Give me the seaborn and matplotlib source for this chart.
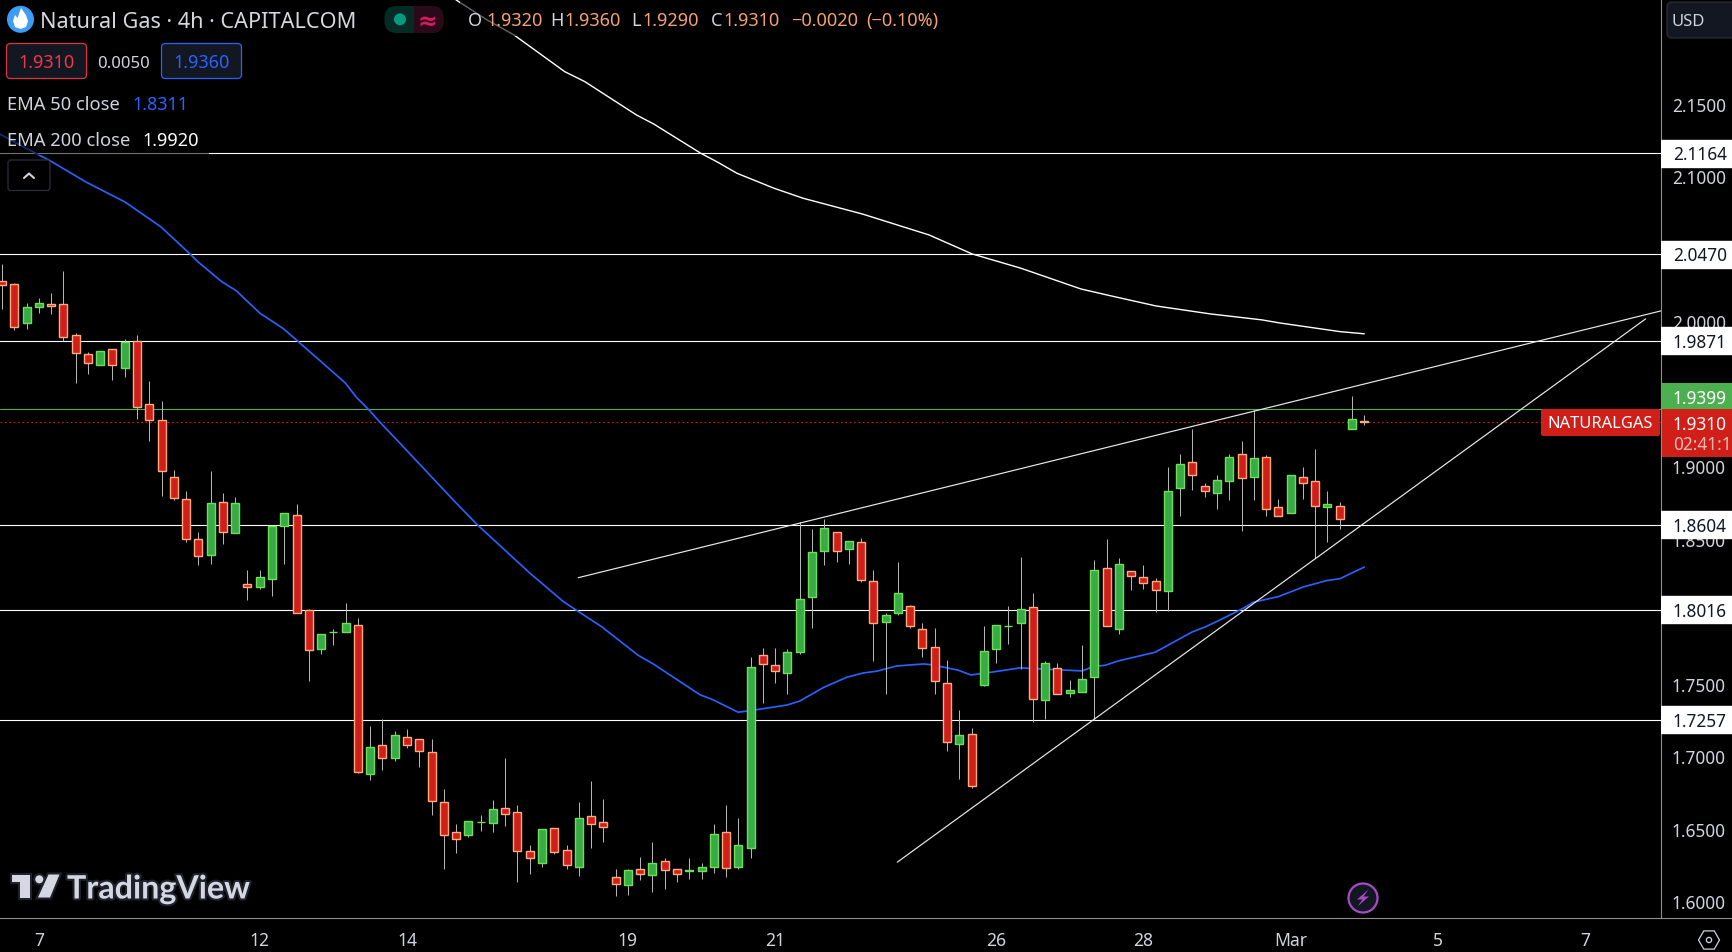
import numpy as np
import pandas as pd
import matplotlib
matplotlib.use("Agg")
import matplotlib.pyplot as plt
from matplotlib.patches import Rectangle, FancyBboxPatch, Circle, Polygon, RegularPolygon
import matplotlib.patheffects as pe
import seaborn as sns

# ---------- data ----------
open_ = [2.0287,2.0262,1.9993,2.0107,2.0124,2.0124,1.9910,1.9779,1.9707,1.9813,1.9687,1.9869,1.9434,1.9324,1.8931,1.8779,1.8503,1.8397,1.8758,1.8548,
         1.8192,1.8176,1.8231,1.8596,1.8668,1.8013,1.7749,1.7860,1.7866,1.7910,1.6887,1.7083,1.6991,1.7138,1.7124,1.7035,1.6690,1.6483,1.6466,1.6552,
         1.6549,1.6648,1.6621,1.6352,1.6269,1.6510,1.6359,1.6245,1.6593,1.6552,1.6172,1.6121,1.6227,1.6190,1.6283,1.6227,1.6216,1.6217,1.6245,1.6483,
         1.6245,1.6376,1.7703,1.7634,1.7579,1.7728,1.8103,1.8420,1.8551,1.8434,1.8482,1.8213,1.7930,1.7992,1.8041,1.7883,1.7758,1.7510,1.7089,1.7158,
         1.7500,1.7744,1.7903,1.7924,1.8034,1.7393,1.7614,1.7441,1.7448,1.7551,1.8303,1.7883,1.8282,1.8241,1.8213,1.8144,1.8855,1.9034,1.8868,1.8820,
         1.8903,1.9089,1.8931,1.9069,1.8724,1.8682,1.8931,1.8903,1.8724,1.8731,1.9262,1.9320]
high = [2.0402,2.0271,2.0131,2.0165,2.0200,2.0351,1.9924,1.9793,1.9800,1.9813,1.9883,1.9910,1.9593,1.9455,1.8979,1.8836,1.8551,1.8972,1.8820,1.8792,
        1.8291,1.8291,1.8592,1.8682,1.8746,1.8020,1.7848,1.7883,1.8064,1.7961,1.7214,1.7262,1.7179,1.7193,1.7124,1.7124,1.6779,1.6538,1.6559,1.6600,
        1.6703,1.6993,1.6669,1.6393,1.6503,1.6510,1.6393,1.6690,1.6834,1.6710,1.6229,1.6229,1.6310,1.6413,1.6303,1.6227,1.6303,1.6269,1.6538,1.6669,
        1.6579,1.7689,1.7751,1.7751,1.7744,1.8620,1.8572,1.8641,1.8551,1.8489,1.8510,1.8289,1.7992,1.8344,1.8048,1.7924,1.7889,1.7668,1.7323,1.7200,
        1.7903,1.7910,1.8041,1.8379,1.8131,1.7662,1.7648,1.7531,1.7772,1.8358,1.8503,1.8372,1.8282,1.8324,1.8234,1.9000,1.9089,1.9262,1.8889,1.8944,
        1.9089,1.9179,1.9393,1.9082,1.8779,1.8944,1.9000,1.9124,1.8834,1.8758,1.9489,1.9360]
low = [2.0092,1.9949,1.9956,2.0066,2.0059,1.9873,1.9583,1.9645,1.9707,1.9604,1.9625,1.9335,1.9183,1.8804,1.8776,1.8486,1.8327,1.8334,1.8472,1.8548,
       1.8086,1.8162,1.8114,1.8334,1.7997,1.7526,1.7714,1.7776,1.7866,1.6892,1.6846,1.6915,1.6977,1.7066,1.6935,1.6604,1.6232,1.6342,1.6452,1.6494,
       1.6487,1.6528,1.6142,1.6197,1.6245,1.6335,1.6232,1.6183,1.6376,1.6417,1.6045,1.6052,1.6155,1.6072,1.6093,1.6140,1.6162,1.6162,1.6204,1.6176,
       1.6232,1.6308,1.7376,1.7514,1.7438,1.7714,1.7893,1.8327,1.8348,1.8334,1.8206,1.7666,1.7438,1.7979,1.7889,1.7693,1.7438,1.7045,1.6852,1.6785,
       1.7493,1.7648,1.7783,1.7606,1.7241,1.7266,1.7434,1.7418,1.7448,1.7257,1.7903,1.7848,1.8151,1.8162,1.8000,1.8007,1.8666,1.8841,1.8797,1.8714,
       1.8776,1.8562,1.8776,1.8666,1.8662,1.8682,1.8783,1.8372,1.8486,1.8576,1.9262,1.9290]
close = [2.0255,1.9965,2.0103,2.0131,2.0110,1.9900,1.9790,1.9721,1.9800,1.9707,1.9862,1.9418,1.9328,1.8976,1.8790,1.8507,1.8390,1.8751,1.8555,1.8751,
         1.8176,1.8241,1.8592,1.8682,1.7997,1.7742,1.7848,1.7864,1.7924,1.6901,1.7069,1.6991,1.7152,1.7087,1.7042,1.6701,1.6466,1.6439,1.6559,1.6556,
         1.6641,1.6611,1.6356,1.6308,1.6503,1.6349,1.6259,1.6579,1.6538,1.6521,1.6128,1.6220,1.6197,1.6269,1.6220,1.6197,1.6219,1.6241,1.6469,1.6238,
         1.6393,1.7620,1.7641,1.7592,1.7723,1.8089,1.8413,1.8579,1.8420,1.8489,1.8220,1.7924,1.7979,1.8131,1.7903,1.7751,1.7524,1.7103,1.7152,1.6799,
         1.7731,1.7910,1.7907,1.8020,1.7400,1.7648,1.7434,1.7462,1.7538,1.8289,1.7903,1.8331,1.8248,1.8200,1.8151,1.8834,1.9020,1.8944,1.8834,1.8910,
         1.9069,1.8924,1.9062,1.8710,1.8662,1.8944,1.8889,1.8731,1.8745,1.8641,1.9331,1.9310]

ema50_idx = [-0.16,2.75,3.91,6.84,10.02,12.96,15.40,16.0,17.93,19.07,21.02,22.92,24.01,27.95,28.90,29.85,30.80,32.43,36.77,38.68,43.02,45.74,46.69,48.86,51.85,
             53.07,56.87,57.96,59.99,61.35,63.98,65.02,66.92,68.83,70.18,71.27,72.90,75.07,75.75,77.92,78.95,80.77,82.97,86.21,88.02,88.92,89.90,90.96,93.97,96.94,
             98.02,98.97,101.14,101.96,103.99,106.03,107.94,109.02,111.0]
ema50_val = [2.1296,2.1165,2.1114,2.0967,2.0829,2.0657,2.0464,2.0414,2.0278,2.0218,2.0062,1.9956,1.9876,1.9583,1.9480,1.9400,1.9310,1.9165,1.8774,1.8607,1.8269,1.8073,1.8020,1.7900,1.7702,
             1.7643,1.7431,1.7395,1.7310,1.7326,1.7360,1.7388,1.7480,1.7551,1.7581,1.7593,1.7629,1.7643,1.7638,1.7600,1.7567,1.7588,1.7616,1.7602,1.7595,1.7625,1.7634,1.7664,1.7724,1.7862,
             1.7898,1.7935,1.8027,1.8069,1.8107,1.8174,1.8218,1.8231,1.8311]
ema200_idx = [36.99,39.52,41.72,45.85,47.49,51.70,53.10,56.94,58.24,59.89,62.90,65.27,70.15,75.53,79.04,83.03,87.92,90.28,94.03,98.47,102.66,104.09,109.02,111.0]
ema200_val = [2.2223,2.2085,2.1981,2.1728,2.1659,2.1429,2.1367,2.1165,2.1107,2.1027,2.0924,2.0855,2.0745,2.0602,2.0471,2.0372,2.0229,2.0183,2.0112,2.0057,2.0016,1.9995,1.9935,1.9920]

levels = [2.1164, 2.0470, 1.9871, 1.8604, 1.8016, 1.7257]
resistance_idx, resistance_val = [46.96, 135.18], [1.8238, 2.0078]
support_idx, support_val = [72.95, 133.93], [1.6276, 2.0023]
current_price, green_level = 1.9310, 1.9399
axis_prices = [1.60, 1.65, 1.70, 1.75, 1.85, 1.90, 2.00, 2.10, 2.15]
date_idx = [3, 21, 33, 51, 63, 81, 93, 105, 117, 129]
date_labels = ["7", "12", "14", "19", "21", "26", "28", "Mar", "5", "7"]

# ---------- style ----------
FONT = ["Noto Sans", "DejaVu Sans"]
sns.set_theme(style="dark", rc={"axes.facecolor": "black", "figure.facecolor": "black", "axes.grid": False})
plt.rcParams["font.family"] = FONT
W, H = 1733, 952
PLOT_R, PLOT_B = 1661, 918
YMIN, YMAX = 1.5891, 2.2222
GREY = "#d1d4dc"
AXLINE = "#8f8f8f"
PX = 0.72

fig = plt.figure(figsize=(W / 100, H / 100), dpi=100, facecolor="black")
ax = fig.add_axes([0, (H - PLOT_B) / H, PLOT_R / W, PLOT_B / H], facecolor="black")
ax_r = fig.add_axes([PLOT_R / W, (H - PLOT_B) / H, (W - PLOT_R) / W, PLOT_B / H], facecolor="black")

# ---------- main chart ----------
df = pd.DataFrame({"open": open_, "high": high, "low": low, "close": close})
df["idx"] = np.arange(len(df))
up = df["close"] >= df["open"]

ax.hlines(levels, -1, 140, color="white", lw=1.1 * PX, zorder=1)
ax.axhline(green_level, color="#4caf50", lw=1.1 * PX, zorder=1)
ax.axhline(current_price, color="#e5161b", lw=1.1 * PX, ls=(0, (1.5, 2.5)), zorder=1)

sns.lineplot(x=ema50_idx, y=ema50_val, ax=ax, color="#2962ff", lw=1.7 * PX, estimator=None, sort=False, zorder=2)
sns.lineplot(x=ema200_idx, y=ema200_val, ax=ax, color="white", lw=1.4 * PX, estimator=None, sort=False, zorder=2)

ax.vlines(df["idx"], df["low"], df["high"], color="#b4b4b4", lw=1.0 * PX, zorder=3)
bottoms = df[["open", "close"]].min(axis=1)
heights = (df["close"] - df["open"]).abs()
ax.bar(df["idx"][~up], heights[~up], bottom=bottoms[~up], width=0.65, color="#d01f19",
       edgecolor="#ffab80", lw=1.4 * PX, zorder=4)
ax.bar(df["idx"][up], heights[up], bottom=bottoms[up], width=0.65, color="#38ab47",
       edgecolor="#6fe055", lw=1.4 * PX, zorder=4)

ax.plot(resistance_idx, resistance_val, color="#e8e8e8", lw=1.2 * PX, zorder=5)
ax.plot(support_idx, support_val, color="#e8e8e8", lw=1.2 * PX, zorder=5)

ax.set_xlim(-0.163, 135.18)
ax.set_ylim(YMIN, YMAX)
ax.set_yticks([])
ax.set_xticks(date_idx)
ax.set_xticklabels(date_labels, fontsize=12.6, color=GREY)
ax.get_xticklabels()[7].set_fontweight("bold")
ax.tick_params(axis="x", length=0, pad=10)
ax.set_xlabel("")
ax.set_ylabel("")
for s in ax.spines.values():
    s.set_visible(False)
ax.spines["bottom"].set_visible(True)
ax.spines["bottom"].set_color(AXLINE)
ax.spines["bottom"].set_linewidth(1.1 * PX)

# ---------- price axis ----------
ax_r.set_xlim(0, 1)
ax_r.set_ylim(YMIN, YMAX)
ax_r.set_xticks([])
ax_r.yaxis.tick_right()
ax_r.set_yticks(axis_prices)
ax_r.set_yticklabels([f"{p:.4f}" for p in axis_prices], fontsize=12.4, color=GREY)
ax_r.tick_params(axis="y", length=0, pad=-44)
for s in ax_r.spines.values():
    s.set_visible(False)
for side in ("left", "bottom"):
    ax_r.spines[side].set_visible(True)
    ax_r.spines[side].set_color(AXLINE)
    ax_r.spines[side].set_linewidth(1.1 * PX)
ax_r.barh(levels, 1, height=27 / 1450, color="white", align="center", zorder=5)
for lv in levels:
    ax_r.text(12 / 72, lv, f"{lv:.4f}", color="#131722", fontsize=12.4, va="center_baseline", ha="left", zorder=6)

# ---------- chrome overlay in pixel coordinates ----------
ov = fig.add_axes([0, 0, 1, 1], facecolor="none", zorder=10)
ov.set_xlim(0, W)
ov.set_ylim(H, 0)
ov.axis("off")


def txt(x, y, s, color=GREY, size=12.4, ha="left", **kw):
    return ov.text(x, y, s, color=color, fontsize=size, ha=ha, va="center_baseline", **kw)


def box(x0, y0, x1, y1, fc, ec="none", r=3, lw=1.0, alpha=None):
    p = FancyBboxPatch((x0 + r, y0 + r), x1 - x0 - 2 * r, y1 - y0 - 2 * r,
                       boxstyle=f"round,pad={r},rounding_size={r}", fc=fc, ec=ec, lw=lw, alpha=alpha,
                       mutation_aspect=1)
    ov.add_patch(p)
    return p


# dim panels behind the legends
ov.add_patch(Rectangle((0, 122), 209, 33, fc="black", ec="none", alpha=0.55))
ov.add_patch(Rectangle((460, 2), 485, 34, fc="black", ec="none", alpha=0.6))

# symbol icon
ov.add_patch(Circle((20.5, 19.3), 13.5, fc="#3d9df5", ec="none"))
ov.add_patch(Polygon([(21, 8), (26, 15), (28, 21), (26, 27), (20.5, 29), (15, 27), (13, 21), (15, 15), (17.5, 18)],
                     closed=True, fc="white", ec="none"))
txt(40, 20, "Natural Gas · 4h · CAPITALCOM", color="#d6d8de", size=15.6)

# status pill
box(384.5, 6, 443.5, 33, "#062b24", r=12)
box(414, 6, 443.5, 33, "#2a0a18", r=12)
ov.add_patch(Rectangle((414, 6), 12, 27, fc="#2a0a18", ec="none"))
ov.add_patch(Circle((400, 19.3), 6, fc="#089981", ec="none"))
txt(427, 19, "≈", color="#d81b60", size=17, ha="center", family=["DejaVu Sans"], fontweight="bold")

# OHLC
for x, s in [(467.5, "O"), (550, "H"), (631.5, "L"), (710.5, "C")]:
    txt(x, 19, s, color=GREY, size=13)
for x, s in [(486, "1.9320"), (564.5, "1.9360"), (642, "1.9290"), (723.5, "1.9310"),
             (791, "−0.0020"), (866, "(−0.10%)")]:
    txt(x, 19, s, color="#f7a26f", size=13)

# bid / ask
box(6.5, 43.5, 86.5, 78.5, "#131722", ec="#e0323f", r=4, lw=0.9)
txt(46.5, 61.5, "1.9310", color="#f23645", size=13, ha="center")
txt(124, 61.5, "0.0050", color=GREY, size=12, ha="center")
box(161.5, 43.5, 241.5, 78.5, "#131722", ec="#2962ff", r=4, lw=0.9)
txt(201.5, 61.5, "1.9360", color="#2962ff", size=13, ha="center")

# indicator legend
txt(7, 103, "EMA 50 close", color=GREY, size=13.2)
txt(132, 103, "1.8311", color="#2962ff", size=13)
txt(7, 139, "EMA 200 close", color=GREY, size=13.2)
txt(142.5, 139, "1.9920", color="white", size=13)
box(8, 160, 50, 190.5, "black", ec="#2a2e39", r=3, lw=0.9)
ov.plot([24, 29, 34], [178, 173.5, 178], color=GREY, lw=1.5, solid_capstyle="round")

# USD
box(1667, 2, 1745, 38, "#131722", ec="#2a2e39", r=5, lw=0.9)
txt(1672, 20, "USD", color=GREY, size=12)

# current price labels
ov.add_patch(Rectangle((1662, 383), 71, 26, fc="#4caf50", ec="none"))
txt(1673, 396.5, f"{green_level:.4f}", color="white", size=12.4, fontweight="medium")
ov.add_patch(Rectangle((1662, 409), 71, 48, fc="#d01f19", ec="none"))
txt(1673, 422.5, f"{current_price:.4f}", color="white", size=12.4, fontweight="medium")
txt(1673, 443.5, "02:41:1", color="#f3b8b4", size=12.4)
box(1541, 409, 1660, 436, "#d01f19", r=2)
txt(1600.5, 422.5, "NATURALGAS", color="white", size=11.9, ha="center", fontweight="medium")

# lightning badge
ov.add_patch(Circle((1363, 898), 14.5, fc="#131722", ec="#a64bc6", lw=1.6))
ov.add_patch(Polygon([(1368.5, 889.5), (1357, 899.5), (1362.5, 899.5), (1357.5, 906.5), (1369, 896.5), (1363.5, 896.5)],
                     closed=True, fc="#a64bc6", ec="none"))

# settings icon
ov.add_patch(RegularPolygon((1709, 940), 6, radius=10.5, orientation=np.pi / 2, fc="none", ec=GREY, lw=0.9))
ov.add_patch(Circle((1709, 940), 2.6, fc="none", ec=GREY, lw=0.9))

# TradingView logo
LOGO = "#d5d8e2"
halo = [pe.withStroke(linewidth=3.0, foreground="#1e222d")]
for patch in (Polygon([(12, 875), (30, 875), (30, 897.5), (20, 897.5), (20, 882), (12, 882)], closed=True, fc=LOGO, ec="none"),
              Circle((39.3, 879.3), 4, fc=LOGO, ec="none"),
              Polygon([(48.5, 874.5), (59.5, 874.5), (50, 897.5), (38, 897.5)], closed=True, fc=LOGO, ec="none")):
    patch.set_path_effects(halo)
    ov.add_patch(patch)
txt(67, 886.5, "TradingView", color=LOGO, size=23.2, family=["Lato", "DejaVu Sans"], fontweight="bold", path_effects=halo)

fig.savefig("out.png", dpi=100, facecolor="black")
